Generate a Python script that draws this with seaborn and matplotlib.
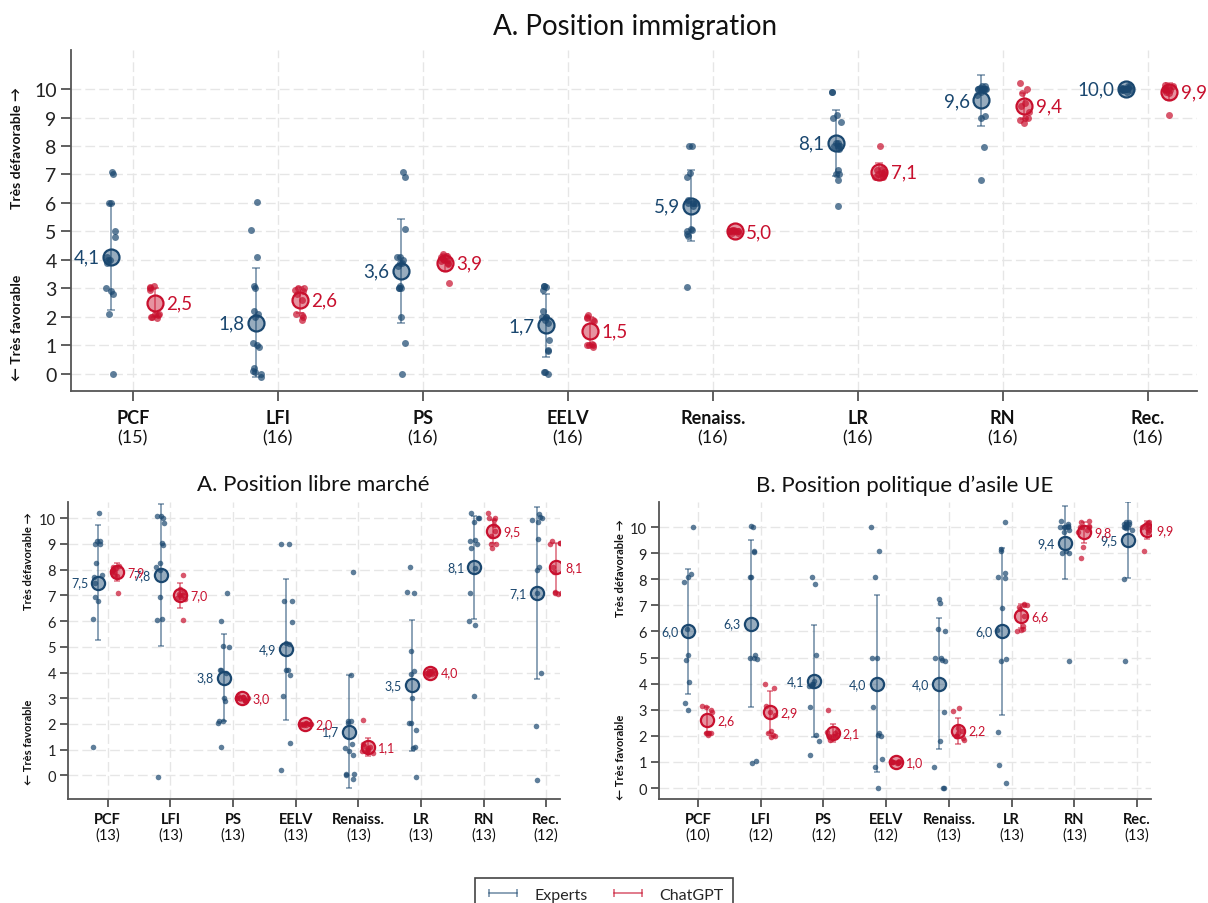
import numpy as np
import pandas as pd
import matplotlib
matplotlib.use("Agg")
import matplotlib.pyplot as plt
import seaborn as sns
from matplotlib.colors import to_rgba
from matplotlib.lines import Line2D

sns.set_theme(style="white")
plt.rcParams['font.family'] = ['Lato', 'DejaVu Sans']

BLUE = "#1a476f"
RED = "#c8102e"

parties = ["PCF", "LFI", "PS", "EELV", "Renaiss.", "LR", "RN", "Rec."]

# --- A. Position immigration
imm_n = [15, 16, 16, 16, 16, 16, 16, 16]
imm_exp_mean = [4.1, 1.8, 3.6, 1.7, 5.9, 8.1, 9.6, 10.0]
imm_exp_sd = [1.85, 1.9, 1.83, 1.1, 1.25, 1.15, 0.9, 0.0]
imm_gpt_mean = [2.5, 2.6, 3.9, 1.5, 5.0, 7.1, 9.4, 9.9]
imm_gpt_sd = [0.5, 0.45, 0.3, 0.5, 0.0, 0.3, 0.45, 0.3]
imm_exp = [
    [7.1, 7.0, 6.0, 6.0, 5.0, 4.8, 4.1, 4.0, 3.9, 4.0, 3.0, 2.9, 2.8, 2.1, 0.0],
    [6.05, 5.05, 4.1, 3.1, 3.0, 2.2, 2.1, 2.0, 1.1, 1.0, 0.95, 0.2, 0.1, 0.05, 0.0, -0.1],
    [7.1, 6.9, 5.1, 4.1, 4.1, 4.0, 3.9, 3.9, 3.8, 3.1, 3.0, 3.0, 3.0, 2.0, 1.1, 0.0],
    [3.1, 3.1, 3.05, 2.95, 2.2, 2.0, 2.0, 2.0, 1.9, 1.8, 1.2, 0.85, 0.8, 0.05, 0.0, 0.05],
    [8.0, 8.0, 7.05, 6.9, 6.1, 6.0, 6.0, 6.0, 6.0, 5.9, 5.1, 5.05, 5.0, 4.9, 4.85, 3.05],
    [9.9, 9.9, 9.1, 9.0, 8.85, 8.1, 8.1, 8.0, 8.0, 8.0, 7.9, 7.15, 7.0, 7.0, 6.8, 5.9],
    [10.1, 10.1, 10.05, 10.0, 10.0, 10.0, 10.0, 10.0, 10.0, 10.0, 9.9, 9.8, 9.0, 9.05, 7.95, 6.8],
    [10.0, 10.05, 9.95, 10.0, 10.1, 10.0, 9.95, 10.0, 10.05, 10.0, 10.1, 9.9, 10.0, 10.0, 10.05, 9.95],
]
imm_gpt = [
    [3.1, 3.05, 3.0, 2.95, 2.1, 2.1, 2.05, 2.0, 2.0, 1.95],
    [3.0, 3.0, 2.95, 2.9, 2.8, 2.6, 2.1, 2.05, 2.0, 1.9],
    [4.2, 4.15, 4.1, 4.05, 4.0, 4.0, 3.95, 3.9, 3.85, 3.2],
    [2.05, 2.0, 1.95, 1.9, 1.85, 1.05, 1.0, 1.0, 0.95, 1.0],
    [5.0, 5.05, 4.95, 5.0, 5.0, 4.95, 5.05, 5.0, 5.0, 5.0],
    [8.0, 7.2, 7.15, 7.1, 7.05, 7.0, 7.0, 6.95, 6.9, 6.9],
    [10.2, 10.0, 9.85, 9.5, 9.4, 9.2, 9.0, 9.0, 8.9, 8.8],
    [10.15, 10.1, 10.05, 10.0, 10.0, 9.95, 9.95, 9.9, 9.85, 9.1],
]

# --- A. Position libre marché
mar_n = [13, 13, 13, 13, 13, 13, 13, 12]
mar_exp_mean = [7.5, 7.8, 3.8, 4.9, 1.7, 3.5, 8.1, 7.1]
mar_exp_sd = [2.25, 2.75, 1.7, 2.73, 2.2, 2.55, 2.0, 3.35]
mar_gpt_mean = [7.9, 7.0, 3.0, 2.0, 1.1, 4.0, 9.5, 8.1]
mar_gpt_sd = [0.35, 0.5, 0.1, 0.05, 0.35, 0.1, 0.45, 0.95]
mar_exp = [
    [10.2, 9.1, 9.1, 9.0, 9.0, 8.25, 7.8, 7.7, 7.5, 6.95, 6.8, 6.1, 1.1],
    [10.1, 10.1, 10.0, 9.8, 9.05, 8.95, 8.25, 8.1, 8.0, 6.95, 6.1, 6.05, -0.05],
    [7.1, 6.0, 5.05, 5.0, 4.1, 4.1, 4.0, 3.0, 2.9, 2.1, 2.1, 2.05, 1.1],
    [9.0, 9.0, 6.8, 6.8, 5.95, 5.15, 5.1, 4.1, 4.1, 3.9, 3.1, 1.25, 0.2],
    [7.9, 3.9, 2.1, 2.1, 2.05, 1.2, 1.05, 0.95, 0.8, 0.05, 0.05, 0.0, -0.15],
    [8.1, 7.15, 7.1, 4.85, 4.05, 3.95, 3.0, 2.05, 2.05, 1.75, 1.05, 1.1, -0.05],
    [10.2, 10.0, 10.0, 9.85, 9.15, 9.1, 9.0, 8.85, 8.05, 7.1, 6.0, 5.85, 3.1],
    [10.15, 10.05, 10.0, 9.95, 9.85, 9.2, 8.1, 8.0, 7.1, 4.0, 1.9, -0.2],
]
mar_gpt = [
    [8.15, 8.1, 8.05, 8.0, 8.0, 7.95, 7.9, 7.8, 7.75, 7.1],
    [7.8, 7.25, 7.15, 7.05, 7.0, 7.0, 6.95, 6.9, 6.85, 6.05],
    [3.1, 3.05, 3.0, 3.0, 3.0, 2.95, 3.0, 2.9, 3.05, 2.95],
    [2.05, 2.0, 2.0, 1.95, 2.0, 2.05, 1.95, 2.0, 2.0, 1.95],
    [2.15, 1.2, 1.15, 1.1, 1.05, 1.0, 1.0, 0.95, 0.9, 0.85],
    [4.1, 4.05, 4.0, 4.0, 4.0, 3.95, 4.0, 3.9, 4.05, 3.95],
    [10.2, 10.0, 10.0, 9.95, 9.75, 9.5, 9.3, 9.0, 9.0, 8.85],
    [9.1, 9.05, 9.0, 9.05, 8.1, 7.9, 7.1, 7.1, 7.05, 7.15],
]

# --- B. Position politique d'asile UE
asi_n = [10, 12, 12, 12, 13, 13, 13, 13]
asi_exp_mean = [6.0, 6.3, 4.1, 4.0, 4.0, 6.0, 9.4, 9.5]
asi_exp_sd = [2.4, 3.2, 2.15, 3.4, 2.5, 3.2, 1.4, 1.45]
asi_gpt_mean = [2.6, 2.9, 2.1, 1.0, 2.2, 6.6, 9.8, 9.9]
asi_gpt_sd = [0.5, 0.8, 0.35, 0.05, 0.5, 0.45, 0.4, 0.35]
asi_exp = [
    [10.0, 8.2, 8.1, 7.9, 6.1, 5.1, 4.9, 4.05, 3.25, 3.0],
    [10.05, 10.0, 9.1, 9.05, 8.1, 8.1, 5.1, 5.0, 5.0, 4.95, 1.05, 0.95],
    [8.1, 7.8, 5.1, 4.1, 4.0, 4.0, 3.9, 3.9, 3.1, 2.05, 1.8, 1.25],
    [10.0, 9.1, 8.1, 5.0, 5.0, 3.1, 2.1, 2.05, 2.0, 1.1, 0.8, 0.0],
    [7.25, 7.1, 6.1, 6.0, 5.0, 5.0, 4.9, 4.85, 2.9, 1.8, 0.8, 0.0, 0.0],
    [10.2, 9.15, 9.1, 8.25, 8.1, 8.05, 6.9, 6.05, 4.95, 4.85, 2.15, 0.9, 0.2],
    [10.25, 10.1, 10.05, 10.0, 10.0, 10.0, 10.0, 9.9, 9.8, 9.1, 9.0, 9.0, 4.85],
    [10.2, 10.2, 10.1, 10.1, 10.1, 10.0, 10.0, 10.05, 9.95, 9.9, 8.0, 4.85, 10.0],
]
asi_gpt = [
    [3.15, 3.1, 3.0, 2.9, 2.1, 2.1, 2.1, 2.1, 2.05, 2.1],
    [4.0, 3.85, 3.15, 2.9, 2.8, 2.2, 2.1, 2.05, 2.0, 1.95],
    [3.0, 2.2, 2.15, 2.1, 2.05, 2.0, 2.0, 2.0, 1.95, 1.85],
    [1.05, 1.0, 1.0, 1.0, 0.95, 1.0, 1.05, 0.95, 1.0, 1.0],
    [3.05, 2.95, 2.3, 2.2, 2.1, 2.0, 2.0, 2.0, 1.9, 1.85],
    [7.05, 7.0, 7.0, 6.95, 6.85, 6.6, 6.2, 6.1, 6.05, 6.0],
    [10.25, 10.2, 10.05, 10.0, 10.0, 10.0, 9.9, 9.8, 9.25, 8.8],
    [10.2, 10.15, 10.1, 10.05, 10.0, 10.0, 9.95, 9.9, 9.8, 9.1],
]

np.random.seed(3)
W, H = 1208, 904


def fmt(v):
    return f"{v:.1f}".replace(".", ",")


def draw_panel(ax, exp_pts, gpt_pts, exp_mean, exp_sd, gpt_mean, gpt_sd, counts,
               xlim, ylim, big):
    off = 0.15
    if big:
        jit, ps, ms, fs, yfs, lfs, tl, cnt = 0.035, 5.0, 11.5, 13, 14, 13.5, 7, -28
    else:
        jit, ps, ms, fs, yfs, lfs, tl, cnt = 0.09, 4.0, 9.5, 10.5, 10.5, 9, 5.5, -20.5
    for pts, sign, col in [(exp_pts, -1, BLUE), (gpt_pts, 1, RED)]:
        rows = []
        for i, vals in enumerate(pts):
            for v in vals:
                rows.append((i + sign * off, v))
        d = pd.DataFrame(rows, columns=["pos", "val"])
        sns.stripplot(data=d, x="pos", y="val", native_scale=True, orient="x",
                      jitter=jit, color=col, alpha=0.7, size=ps, linewidth=0,
                      ax=ax, zorder=2)
    pos = np.arange(len(parties))
    for mean, sd, sign, col in [(exp_mean, exp_sd, -1, BLUE), (gpt_mean, gpt_sd, 1, RED)]:
        x = pos + sign * off
        ax.errorbar(x, mean, yerr=sd, fmt="none", ecolor=to_rgba(col, 0.5),
                    elinewidth=1.4, capsize=3 if big else 2.5, capthick=1.3, zorder=3)
        ax.plot(x, mean, "o", ms=ms, mfc=to_rgba(col, 0.45), mec=col, mew=1.6,
                zorder=4, linestyle="none")
        for xi, m in zip(x, mean):
            if sign < 0:
                ax.annotate(fmt(m), (xi, m), xytext=(-(ms / 2 + 2.5), 0),
                            textcoords="offset points", ha="right", va="center",
                            color=col, fontsize=lfs, zorder=5)
            else:
                ax.annotate(fmt(m), (xi, m), xytext=(ms / 2 + 2.5, 0),
                            textcoords="offset points", ha="left", va="center",
                            color=col, fontsize=lfs, zorder=5)

    ax.set_xlim(*xlim)
    ax.set_ylim(*ylim)
    ax.set_xticks(pos)
    ax.set_xticklabels(parties, fontweight="bold", fontsize=fs, color="#111111")
    ax.set_yticks(range(11))
    ax.set_yticklabels([str(v) for v in range(11)], fontsize=yfs, color="#222222")
    ax.set_xlabel("")
    ax.set_ylabel("")
    ax.grid(True, color="#e6e6e6", linestyle=(0, (7, 3)), linewidth=1.0)
    ax.set_axisbelow(True)
    for s in ["top", "right"]:
        ax.spines[s].set_visible(False)
    for s in ["left", "bottom"]:
        ax.spines[s].set_color("#555555")
        ax.spines[s].set_linewidth(1.3)
    ax.tick_params(axis="both", direction="out", bottom=True, left=True,
                   length=tl, width=1.2, color="#444444")
    ax.tick_params(axis="x", pad=6 if big else 4)
    ax.tick_params(axis="y", pad=3)
    for i, n in enumerate(counts):
        ax.annotate(f"({n})", (i, 0), xycoords=("data", "axes fraction"),
                    xytext=(0, cnt), textcoords="offset points",
                    ha="center", va="top", fontsize=fs, color="#111111")


fig = plt.figure(figsize=(W / 100, H / 100), dpi=100)

ax_top = fig.add_axes([70.5 / W, 1 - 391.7 / H, (1197 - 70.5) / W, (391.7 - 50.7) / H])
draw_panel(ax_top, imm_exp, imm_gpt, imm_exp_mean, imm_exp_sd, imm_gpt_mean, imm_gpt_sd,
           imm_n, (-0.43, 7.34), (-0.59, 11.38), True)

ax_bl = fig.add_axes([67.7 / W, 1 - 800 / H, (560.4 - 67.7) / W, (800 - 503.3) / H])
draw_panel(ax_bl, mar_exp, mar_gpt, mar_exp_mean, mar_exp_sd, mar_gpt_mean, mar_gpt_sd,
           mar_n, (-0.64, 7.226), (-0.92, 10.62), False)

ax_br = fig.add_axes([658.9 / W, 1 - 800 / H, (1151 - 658.9) / W, (800 - 503.3) / H])
draw_panel(ax_br, asi_exp, asi_gpt, asi_exp_mean, asi_exp_sd, asi_gpt_mean, asi_gpt_sd,
           asi_n, (-0.62, 7.22), (-0.42, 10.95), False)

# titles
fig.text(635 / W, 1 - 27 / H, "A. Position immigration", ha="center", va="center",
         fontsize=20, color="#111111")
fig.text(313 / W, 1 - 485 / H, "A. Position libre marché", ha="center", va="center",
         fontsize=16, color="#111111")
fig.text(905 / W, 1 - 486 / H, "B. Position politique d\u2019asile UE", ha="center",
         va="center", fontsize=16, color="#111111")

# axis side labels
for (x, y_top, y_bot, fs) in [(17, 148, 328, 10), (29, 561, 742, 8), (620, 568, 757, 8)]:
    fig.text(x / W, 1 - y_top / H, "Très défavorable \u2192", rotation=90, ha="center",
             va="center", fontsize=fs, fontweight="bold", color="#111111")
    fig.text(x / W, 1 - y_bot / H, "\u2190 Très favorable", rotation=90, ha="center",
             va="center", fontsize=fs, fontweight="bold", color="#111111")

handles = [
    Line2D([0], [0], color=to_rgba(BLUE, 0.5), lw=1.4, marker="|", ms=6, mew=1.4),
    Line2D([0], [0], color=to_rgba(RED, 0.55), lw=1.4, marker="|", ms=6, mew=1.4),
]
leg = fig.legend(handles, ["Experts", "ChatGPT"], loc="upper center",
                 bbox_to_anchor=(0.5, 1 - 871 / H), ncol=2, numpoints=2,
                 frameon=True, fancybox=False, framealpha=1, edgecolor="#444444",
                 fontsize=11.5, handlelength=2.3, columnspacing=1.4, borderpad=0.6)
leg.get_frame().set_linewidth(1.2)

fig.savefig("out.png", dpi=100)
